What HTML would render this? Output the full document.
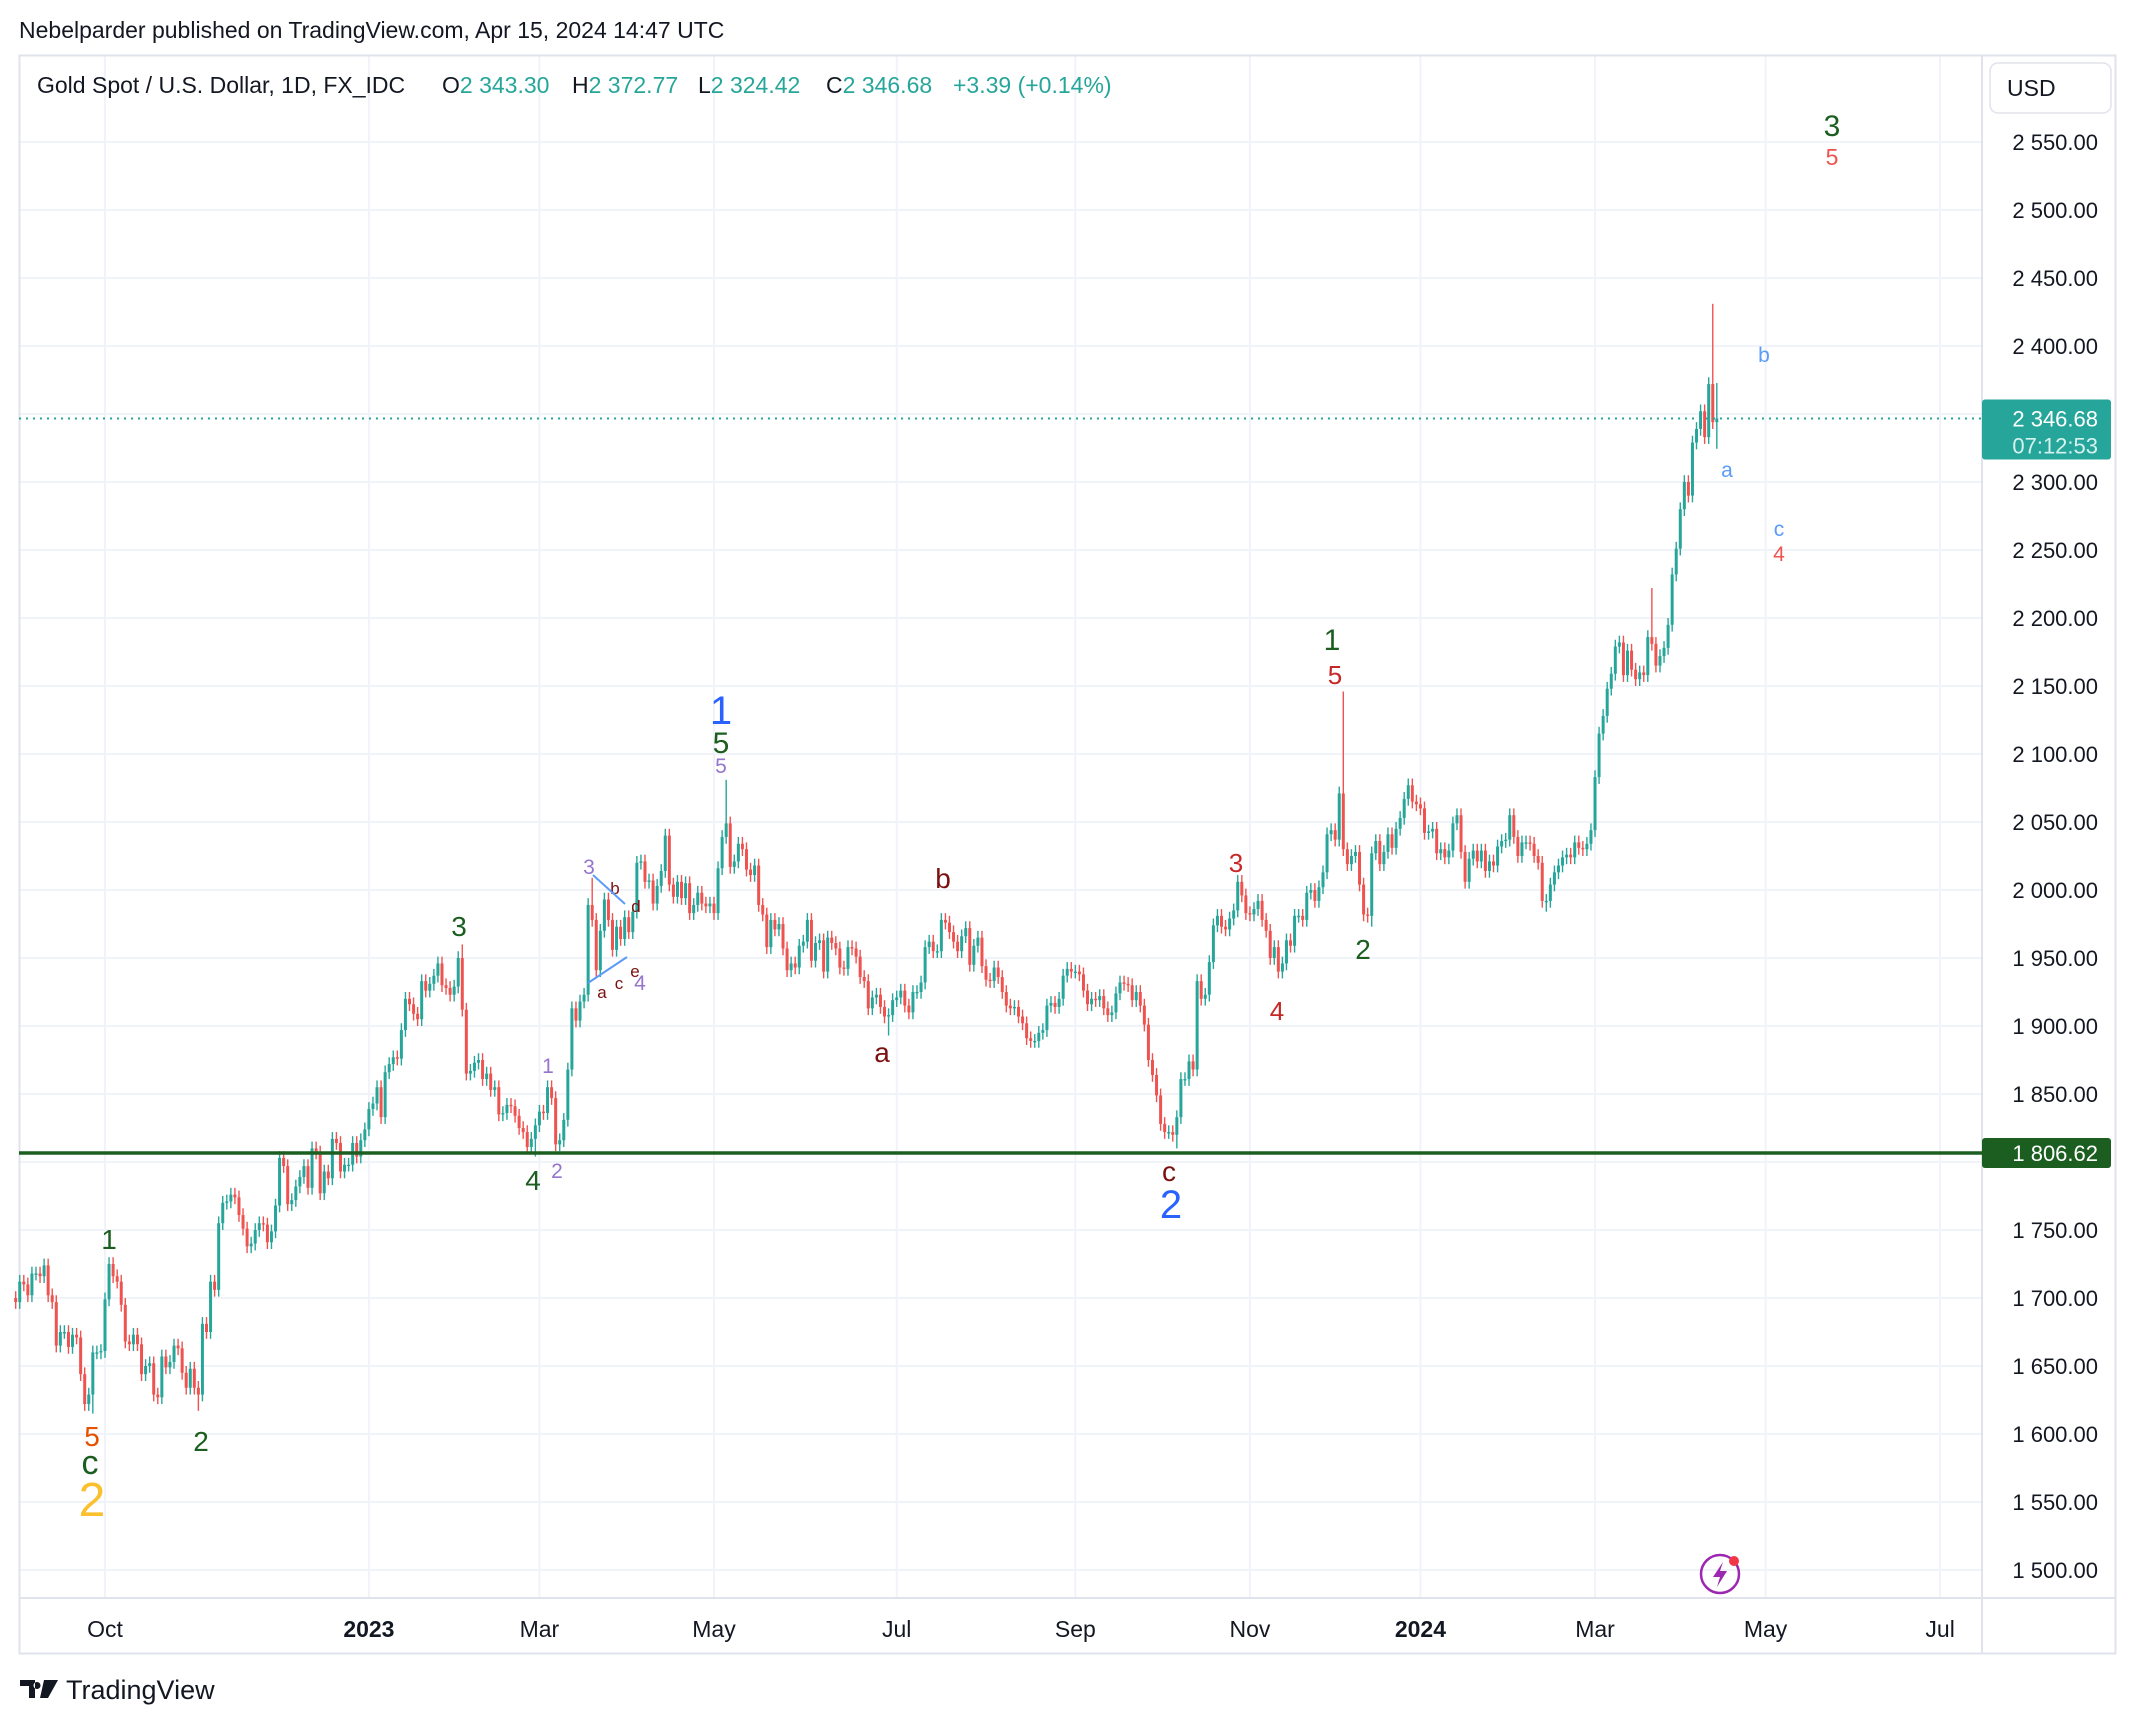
<!DOCTYPE html>
<html><head><meta charset="utf-8"><title>Gold Spot / U.S. Dollar</title>
<style>
html,body{margin:0;padding:0;background:#fff;}
body{width:2142px;height:1726px;overflow:hidden;font-family:"Liberation Sans",sans-serif;}
svg text{font-family:"Liberation Sans",sans-serif;}
</style></head>
<body>
<svg id="chart" xmlns="http://www.w3.org/2000/svg" width="2142" height="1726" viewBox="0 0 2142 1726">
<rect x="0" y="0" width="2142" height="1726" fill="#fff"/>
<text x="19" y="38" font-size="23" fill="#131722">Nebelparder published on TradingView.com, Apr 15, 2024 14:47 UTC</text>
<g id="grid"></g>
<rect x="19.5" y="55.5" width="2096" height="1598" fill="none" stroke="#e0e3eb" stroke-width="2"/>
<line x1="1982" y1="55" x2="1982" y2="1653" stroke="#e0e3eb" stroke-width="2"/>
<line x1="19" y1="1598" x2="2115" y2="1598" stroke="#e0e3eb" stroke-width="2"/>
<g id="candles"></g>
<g id="yaxis"></g>
<g id="overlays"></g>
<g id="xaxis"></g>
<g font-size="23">
<text x="37" y="93" fill="#131722">Gold Spot / U.S. Dollar, 1D, FX_IDC</text>
<text x="442" y="93" fill="#131722">O<tspan fill="#26a69a">2 343.30</tspan></text>
<text x="572" y="93" fill="#131722">H<tspan fill="#26a69a">2 372.77</tspan></text>
<text x="698" y="93" fill="#131722">L<tspan fill="#26a69a">2 324.42</tspan></text>
<text x="826" y="93" fill="#131722">C<tspan fill="#26a69a">2 346.68</tspan></text>
<text x="953" y="93" fill="#26a69a">+3.39 (+0.14%)</text>
</g>
<g>
<rect x="1990" y="63" width="121" height="50" rx="8" fill="#fff" stroke="#e0e3eb" stroke-width="1.5"/>
<text x="2007" y="96" font-size="23" fill="#131722">USD</text>
</g>
<g text-anchor="middle">
<text x="1832" y="136" font-size="30" fill="#1b5e20">3</text>
<text x="1832" y="165" font-size="23" fill="#ef5350">5</text>
<text x="1764" y="362" font-size="21" fill="#5b9cf6">b</text>
<text x="1727" y="477" font-size="21" fill="#5b9cf6">a</text>
<text x="1779" y="536" font-size="21" fill="#5b9cf6">c</text>
<text x="1779" y="561" font-size="21" fill="#ef5350">4</text>
<text x="1332" y="650" font-size="30" fill="#1b5e20">1</text>
<text x="1335" y="684" font-size="26" fill="#c62828">5</text>
<text x="1236" y="872" font-size="26" fill="#c62828">3</text>
<text x="1277" y="1020" font-size="26" fill="#c62828">4</text>
<text x="1363" y="959" font-size="28" fill="#1b5e20">2</text>
<text x="721" y="724" font-size="40" fill="#2962ff">1</text>
<text x="721" y="753" font-size="30" fill="#1b5e20">5</text>
<text x="721" y="773" font-size="21" fill="#9575cd">5</text>
<text x="943" y="888" font-size="28" fill="#7b1010">b</text>
<text x="882" y="1062" font-size="28" fill="#7b1010">a</text>
<text x="1169" y="1181" font-size="28" fill="#7b1010">c</text>
<text x="1171" y="1218" font-size="40" fill="#2962ff">2</text>
<text x="589" y="874" font-size="21" fill="#9575cd">3</text>
<text x="615" y="894" font-size="17" fill="#7b1010">b</text>
<text x="636" y="912" font-size="17" fill="#7b1010">d</text>
<text x="602" y="998" font-size="17" fill="#7b1010">a</text>
<text x="619" y="989" font-size="17" fill="#7b1010">c</text>
<text x="635" y="977" font-size="17" fill="#7b1010">e</text>
<text x="640" y="990" font-size="21" fill="#9575cd">4</text>
<line x1="593" y1="875" x2="625" y2="904" stroke="#5b9cf6" stroke-width="2"/>
<line x1="588" y1="983" x2="627" y2="957" stroke="#5b9cf6" stroke-width="2"/>
<text x="548" y="1073" font-size="21" fill="#9575cd">1</text>
<text x="557" y="1178" font-size="21" fill="#9575cd">2</text>
<text x="459" y="936" font-size="28" fill="#1b5e20">3</text>
<text x="533" y="1190" font-size="28" fill="#1b5e20">4</text>
<text x="109" y="1249" font-size="28" fill="#1b5e20">1</text>
<text x="201" y="1451" font-size="28" fill="#1b5e20">2</text>
<text x="92" y="1446" font-size="28" fill="#e65100">5</text>
<text x="90" y="1474" font-size="34" fill="#1b5e20">c</text>
<text x="92" y="1516" font-size="48" fill="#fbc02d">2</text>
</g>
<g>
<circle cx="1720" cy="1574" r="19" fill="none" stroke="#9c27b0" stroke-width="2.5"/>
<path d="M1723 1562 L1713 1577 L1720 1577 L1717 1587 L1727 1571 L1720 1571 Z" fill="#9c27b0"/>
<circle cx="1734" cy="1561" r="5" fill="#f23645"/>
</g>
<g>
<path d="M20 1680 h15 v18 h-6 v-12 h-9 z M37 1682 a3.5 3.5 0 1 0 0.01 0 z M44 1680 h14 l-10 18 h-8 z" fill="#131722"/>
<text x="66" y="1699" font-size="27" fill="#131722">TradingView</text>
</g>
</svg>
<script>
// ---- data ----
const startDate = '2022-09-01';
const skipDates = ['2023-12-25','2024-01-01','2024-03-29'];
const closes = [
1697,1712, 1710,1702,1718,1718,1716, 1724,1702,1697,1665,1675, 1675,1664,1673,1671,1644, 1622,1629,1660,1660,1661,
1699,1725,1716,1712,1695, 1668,1666,1673,1666,1644, 1650,1652,1629,1627,1657, 1649,1653,1665,1663,1645, 1634,
1648,1634,1629,1681, 1675,1712,1706,1755,1770, 1771,1776,1774,1761,1751, 1738,1740,1750,1755,1754, 1741,1749,1768,
1803,1797, 1769,1772,1782,1789,1797, 1781,1810,1807,1777,1793, 1788,1817,1814,1793,1798, 1798,1814,1804,1816,1824,
1839,1843,1855,1833,1866, 1872,1877,1876,1897,1920, 1916,1909,1905,1933,1926, 1931,1937,1946,1930,1928, 1923,1929,
1950,1912,1865, 1867,1873,1875,1861,1865, 1853,1855,1835,1836,1842, 1841,1834,1825,1822,1811, 1817,1827,
1837,1836,1855, 1847,1813,1816,1831,1868, 1913,1904,1918,1923,1989, 1978,1941,1970,1993,1978, 1956,1973,1964,1980,1969,
1984,2020,2021,2006,2007, 1990,2003,2014,2040,2004, 1995,2006,1994,2005,1983, 1989,1998,1990,1988,1990,
1983,2016,2039,2049,2017, 2021,2034,2030,2015,2011, 2018,1989,1982,1958,1978, 1971,1975,1957,1941,1946, 1943,1959,1962,
1978,1948, 1961,1963,1940,1965,1961, 1957,1943,1942,1958,1957, 1951,1936,1933,1913,1921, 1923,1914,1907,1908,1919,
1921,1926,1915,1910,1925, 1925,1932,1958,1962,1955, 1955,1978,1976,1969,1962, 1955,1966,1972,1945,1959, 1965,
1944,1934,1933,1943, 1936,1925,1915,1913,1914, 1907,1902,1891,1889,1889, 1895,1897,1915,1917,1914, 1920,1937,1942,1940,
1940, 1938,1926,1916,1920,1919, 1922,1913,1908,1910,1924, 1932,1931,1930,1919,1925, 1915,1901,1875,1864,1849,
1828,1822,1822,1820,1833, 1861,1861,1874,1868,1933, 1920,1923,1947,1974,1981, 1973,1971,1979,1985,2006, 1996,1983,
1982,1986,1992, 1978,1970,1950,1958,1940, 1946,1963,1959,1981,1981, 1978,1998,2000,1992,2002, 2013,2041,2044,2037,
2071, 2030,2019,2025,2028,2004, 1982,1981,2027,2036,2019, 2028,2041,2031,2045,2053, 2067,2077,2065,2063,
2060,2042,2043,2045, 2027,2030,2024,2029,2049, 2055,2028,2006,2023,2029, 2021,2029,2014,2021,2018, 2032,2036,2037,
2055,2039, 2025,2035,2035,2034,2025, 2020,1992,1992,2004,2013, 2018,2024,2026,2024,2035, 2031,2030,2034,2044,
2083, 2115,2128,2148,2159,2179, 2182,2158,2176,2162,2155, 2160,2158,2186,2181,2165, 2172,2178,2195,2232,
2251,2280,2300,2290,2329, 2339,2352,2333,2372,2344, 2346.68
];
const firstOpen = 1700;
const wickSize = 5;
const highOverrides = {'2023-02-02':1960,'2023-03-20':2009,'2023-05-04':2081,'2023-12-04':2146,'2024-03-21':2222,'2024-04-12':2431,'2024-04-15':2372.77};
const lowOverrides = {'2022-09-28':1615,'2022-11-03':1617,'2023-02-28':1804,'2023-06-29':1893,'2023-10-06':1810,'2023-12-13':1973,'2024-02-14':1984,'2024-04-15':2324.42};
const priceTicks = [1500,1550,1600,1650,1700,1750,1800,1850,1900,1950,2000,2050,2100,2150,2200,2250,2300,2350,2400,2450,2500,2550];
const monthTicks = ['2022-10','2023-01','2023-03','2023-05','2023-07','2023-09','2023-11','2024-01','2024-03','2024-05','2024-07'];
const monthNames = ['Jan','Feb','Mar','Apr','May','Jun','Jul','Aug','Sep','Oct','Nov','Dec'];
const supportLevel = 1806.62;
const lastPrice = 2346.68;
const countdown = '07:12:53';

// ---- scales ----
const NS='http://www.w3.org/2000/svg';
const plotL=19, plotR=1982, plotT=55, plotB=1598;
function yScale(p){return 142+(2550-p)*1.36;}
const step=4.06, x0=105, idx0=22;
function xScale(i){return x0+(i-idx0)*step;}
function fmt(v){const s=v.toFixed(2);const [a,b]=s.split('.');return (a.length>3?a.slice(0,a.length-3)+' '+a.slice(-3):a)+'.'+b;}
function mk(tag,attrs,parent){const e=document.createElementNS(NS,tag);for(const k in attrs)e.setAttribute(k,attrs[k]);parent.appendChild(e);return e;}

const dates=[];
{let d=new Date(startDate+'T00:00:00Z');const end=new Date('2024-07-31T00:00:00Z');
 while(d<=end){const wd=d.getUTCDay();const s=d.toISOString().slice(0,10);
  if(wd!==0&&wd!==6&&skipDates.indexOf(s)<0)dates.push(s);
  d=new Date(d.getTime()+86400000);}}

const grid=document.getElementById('grid');
const yaxis=document.getElementById('yaxis');
const xaxis=document.getElementById('xaxis');
const ys=yScale(supportLevel), yl=yScale(lastPrice);
priceTicks.forEach(p=>{
  const y=yScale(p);
  const gl=mk('line',{x1:plotL,x2:plotR,y1:y,y2:y,stroke:'#f0f3fa','stroke-width':2},grid);
  
  
  const hidden=(Math.abs(y-ys)<24)||(y>yl-30&&y<yl+50);
  if(hidden)return;
  const t=mk('text',{x:2098,y:y+8,'font-size':22,fill:'#131722','text-anchor':'end'},yaxis);
  t.textContent=fmt(p);
  
  
});
monthTicks.forEach(m=>{
  const i=dates.findIndex(d=>d.slice(0,7)===m);
  if(i<0)return;
  const x=xScale(i);
  const gl=mk('line',{x1:x,x2:x,y1:plotT,y2:plotB,stroke:'#f0f3fa','stroke-width':2},grid);
  
  
  const mo=parseInt(m.slice(5,7),10);
  const isYear=mo===1;
  const t=mk('text',{x:x,y:1637,'font-size':23,fill:'#131722','text-anchor':'middle','font-weight':isYear?'bold':'normal'},xaxis);
  t.textContent=isYear?m.slice(0,4):monthNames[mo-1];
  
  
});

const cg=document.getElementById('candles');
let prev=firstOpen;
closes.forEach((c,i)=>{
  const o=prev; prev=c;
  const d=dates[i];
  let h=Math.max(o,c)+wickSize, l=Math.min(o,c)-wickSize;
  if(highOverrides[d]!==undefined)h=highOverrides[d];
  if(lowOverrides[d]!==undefined)l=lowOverrides[d];
  const up=c>=o; const col=up?'#26a69a':'#ef5350';
  const x=xScale(i);
  const g=mk('g',{},cg);
  
  
  mk('line',{x1:x,x2:x,y1:yScale(h),y2:yScale(l),stroke:col,'stroke-width':1.4},g);
  const yt=yScale(Math.max(o,c)), yb=yScale(Math.min(o,c));
  mk('rect',{x:x-1.5,y:yt,width:3,height:Math.max(1.4,yb-yt),fill:col},g);
});

const ov=document.getElementById('overlays');
const sl=mk('line',{x1:plotL,x2:plotR,y1:ys,y2:ys,stroke:'#1b5e20','stroke-width':3.5},ov);


const sb=mk('rect',{x:1982,y:ys-15,width:129,height:30,rx:3,fill:'#1b5e20'},ov);


const st=mk('text',{x:2098,y:ys+8,'font-size':22,fill:'#fff','text-anchor':'end'},ov);
st.textContent=fmt(supportLevel);



const ll=mk('line',{x1:plotL,x2:plotR,y1:yl,y2:yl,stroke:'#26a69a','stroke-width':2,'stroke-dasharray':'2 5'},ov);


const lb=mk('rect',{x:1982,y:yl-19,width:129,height:60,rx:3,fill:'#26a69a'},ov);


const lt=mk('text',{x:2098,y:yl+8,'font-size':22,fill:'#fff','text-anchor':'end'},ov);
lt.textContent=fmt(lastPrice);


const ct=mk('text',{x:2098,y:yl+35,'font-size':22,fill:'#d6f2ee','text-anchor':'end'},ov);
ct.textContent=countdown;


</script>
</body></html>
